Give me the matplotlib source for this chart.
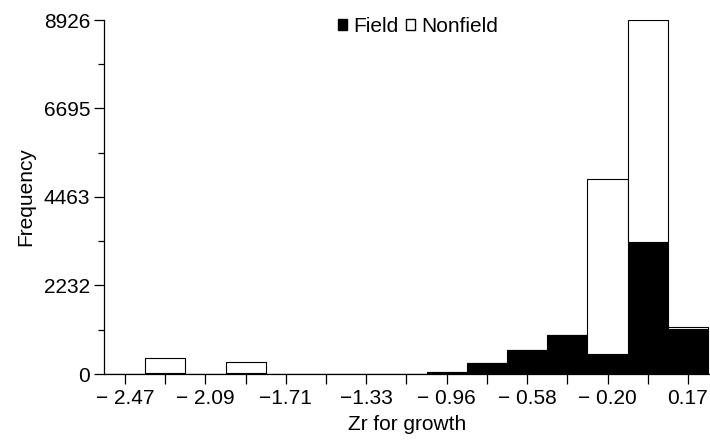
import matplotlib
matplotlib.use("Agg")
import matplotlib.pyplot as plt
from matplotlib.patches import Patch

plt.rcParams['font.family'] = ['Liberation Sans', 'DejaVu Sans']

# Data
bin_start = -2.466
bin_width = 0.18857
n_bins = 15
bin_centers = [bin_start + i * bin_width for i in range(n_bins)]
field = [0, 30, 0, 25, 0, 0, 0, 0, 60, 270, 615, 990, 505, 3318, 1125]
nonfield = [0, 366, 0, 285, 0, 0, 0, 0, 0, 0, 0, 0, 4403, 5608, 50]
ytick_vals = [0, 2232, 4463, 6695, 8926]
xtick_labels = ["\u2212 2.47", "\u2212 2.09", "\u22121.71", "\u22121.33",
                "\u2212 0.96", "\u2212 0.58", "\u2212 0.20", "0.17"]

FS = 15
W, H = 710, 442
fig = plt.figure(figsize=(W / 100, H / 100), dpi=100)
ax = fig.add_axes([104 / W, (H - 374) / H, (W - 104) / W, (374 - 20) / H])

ax.bar(bin_centers, field, width=bin_width, color='black', edgecolor='black', linewidth=0.8, zorder=2)
ax.bar(bin_centers, nonfield, width=bin_width, bottom=field, color='white', edgecolor='black',
       linewidth=0.8, zorder=2)

ax.set_xlim(-2.5645, 0.2772)
ax.set_ylim(0, 8926)

for s in ['top', 'right']:
    ax.spines[s].set_visible(False)
ax.spines['left'].set_linewidth(0.9)
ax.spines['bottom'].set_linewidth(0.9)

ax.set_yticks(ytick_vals)
ax.set_yticklabels([str(v) for v in ytick_vals])
ax.set_yticks([(ytick_vals[i] + ytick_vals[i + 1]) / 2 for i in range(len(ytick_vals) - 1)], minor=True)
ax.set_xticks(bin_centers[::2])
ax.set_xticklabels(xtick_labels)
ax.set_xticks(bin_centers[1::2], minor=True)

ax.tick_params(axis='y', which='major', direction='out', length=7, width=0.9, labelsize=FS, pad=3)
ax.tick_params(axis='y', which='minor', direction='out', length=4, width=0.9)
ax.tick_params(axis='x', which='both', direction='out', length=7, width=0.9, labelsize=FS, pad=4)

ax.set_ylabel('Frequency', fontsize=FS, labelpad=5.8)
ax.set_xlabel('Zr for growth', fontsize=FS, labelpad=5)

handles = [Patch(facecolor='black', edgecolor='black', label='Field'),
           Patch(facecolor='white', edgecolor='black', label='Nonfield')]
leg = ax.legend(handles=handles, loc='upper center', bbox_to_anchor=(0.518, 1.032), ncol=2, frameon=False,
                fontsize=FS, handlelength=0.45, handleheight=0.45, handletextpad=0.3, columnspacing=0.35,
                borderaxespad=0)

fig.savefig('out.png', dpi=100)
